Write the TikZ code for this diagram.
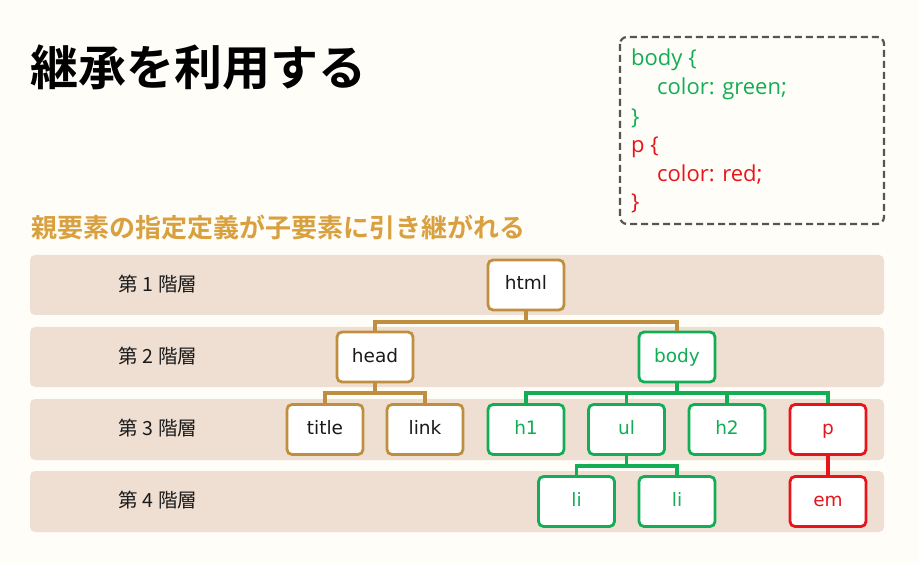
\documentclass[tikz,border=0pt]{standalone}
\usepackage{fontspec}
\setmainfont{DejaVu Sans}
\newfontfamily\dvfont{DejaVu Sans}
\newfontfamily\jpfont{Noto Sans CJK JP}
\newfontfamily\jpbold{Noto Sans CJK JP}[BoldFont={* Bold}]
\newfontfamily\codefont{Open Sans}
\definecolor{bgc}{HTML}{FFFDF8}
\definecolor{bandc}{HTML}{EFDFD2}
\definecolor{brownc}{HTML}{BF8F3F}
\definecolor{greenc}{HTML}{12AD55}
\definecolor{redc}{HTML}{E8141C}
\definecolor{orangec}{HTML}{D9A040}
\definecolor{grayc}{HTML}{555555}
\definecolor{textc}{HTML}{1A1A1A}
\begin{document}
\begin{tikzpicture}[x=1pt,y=-1pt,
  band/.style={fill=bandc, draw=none, rounded corners=5pt},
  lvl/.style={font=\jpfont\fontsize{19.5}{21}\selectfont, text=textc},
  elem/.style={draw, line width=2.8pt, rounded corners=5pt, fill=white,
    minimum width=76pt, minimum height=50pt, inner sep=0pt,
    text height=14pt, text depth=4pt,
    font=\dvfont\fontsize{18.5}{20}\selectfont},
  bel/.style={elem, draw=brownc, text=textc},
  gel/.style={elem, draw=greenc, text=greenc},
  rel/.style={elem, draw=redc, text=redc},
  bline/.style={draw=brownc, line width=3.2pt},
  gline/.style={draw=greenc, line width=3.2pt},
  rline/.style={draw=redc, line width=3.2pt},
  codeln/.style={anchor=west, inner sep=0pt, font=\codefont\fontsize{22}{24}\selectfont}
]
\fill[bgc] (0,0) rectangle (919,564);
\useasboundingbox (0,0) rectangle (919,564);

% title
\node[anchor=west, inner sep=0pt, font=\jpbold\bfseries\fontsize{48}{50}\selectfont, text=black] (title) at (30,67) {継承を利用する};
\node[anchor=west, inner sep=0pt, font=\jpbold\bfseries\fontsize{26}{28}\selectfont, text=orangec] (sub) at (31,227) {親要素の指定定義が子要素に引き継がれる};

% code box
\draw[grayc, line width=2.2pt, dash pattern=on 7pt off 4pt, rounded corners=7pt] (620,37) rectangle (884,224);
\node[codeln, text=greenc] (c1) at (631,60) {body \{};
\node[codeln, text=greenc] (c2) at (657,89) {color: green;};
\node[codeln, text=greenc] (c3) at (631,118) {\}};
\node[codeln, text=redc] (c4) at (631,147) {p \{};
\node[codeln, text=redc] (c5) at (657,175) {color: red;};
\node[codeln, text=redc] (c6) at (631,203) {\}};

% bands
\fill[band] (30,255) rectangle (884,315);
\fill[band] (30,327) rectangle (884,387);
\fill[band] (30,399) rectangle (884,460);
\fill[band] (30,471) rectangle (884,532);
\node[lvl] (l1) at (158,284) {第 1 階層};
\node[lvl] (l2) at (158,356) {第 2 階層};
\node[lvl] (l3) at (158,428) {第 3 階層};
\node[lvl] (l4) at (158,500) {第 4 階層};

\coordinate (b1) at (526,322);
\coordinate (b2) at (375,393);
\coordinate (b3) at (677,393);
\coordinate (b4) at (626.5,466);

% nodes
\node[bel] (html) at (526,285) {html};
\node[bel] (head) at (375,357) {head};
\node[gel] (body) at (677,357) {body};
\node[bel] (ttl) at (325,429.5) {title};
\node[bel] (link) at (425,429.5) {link};
\node[gel] (h1) at (526,429.5) {h1};
\node[gel] (ul) at (626.5,429.5) {ul};
\node[gel] (h2) at (727,429.5) {h2};
\node[rel] (p) at (828,429.5) {p};
\node[gel] (li1) at (576.5,501.5) {li};
\node[gel] (li2) at (677,501.5) {li};
\node[rel] (em) at (828,501.5) {em};

\draw[bline] (html.south) -- (b1);
\draw[bline] (b1) -| (head.north);
\draw[bline] (b1) -| (body.north);
\draw[bline] (head.south) -- (b2);
\draw[bline] (b2) -| (ttl.north);
\draw[bline] (b2) -| (link.north);
\draw[gline] (body.south) -- (b3);
\draw[gline] (b3) -| (h1.north);
\draw[gline] (b3) -| (ul.north);
\draw[gline] (b3) -| (h2.north);
\draw[gline] (b3) -| (p.north);
\draw[gline] (ul.south) -- (b4);
\draw[gline] (b4) -| (li1.north);
\draw[gline] (b4) -| (li2.north);
\draw[rline] (p.south) -- (em.north);
\end{tikzpicture}
\end{document}
